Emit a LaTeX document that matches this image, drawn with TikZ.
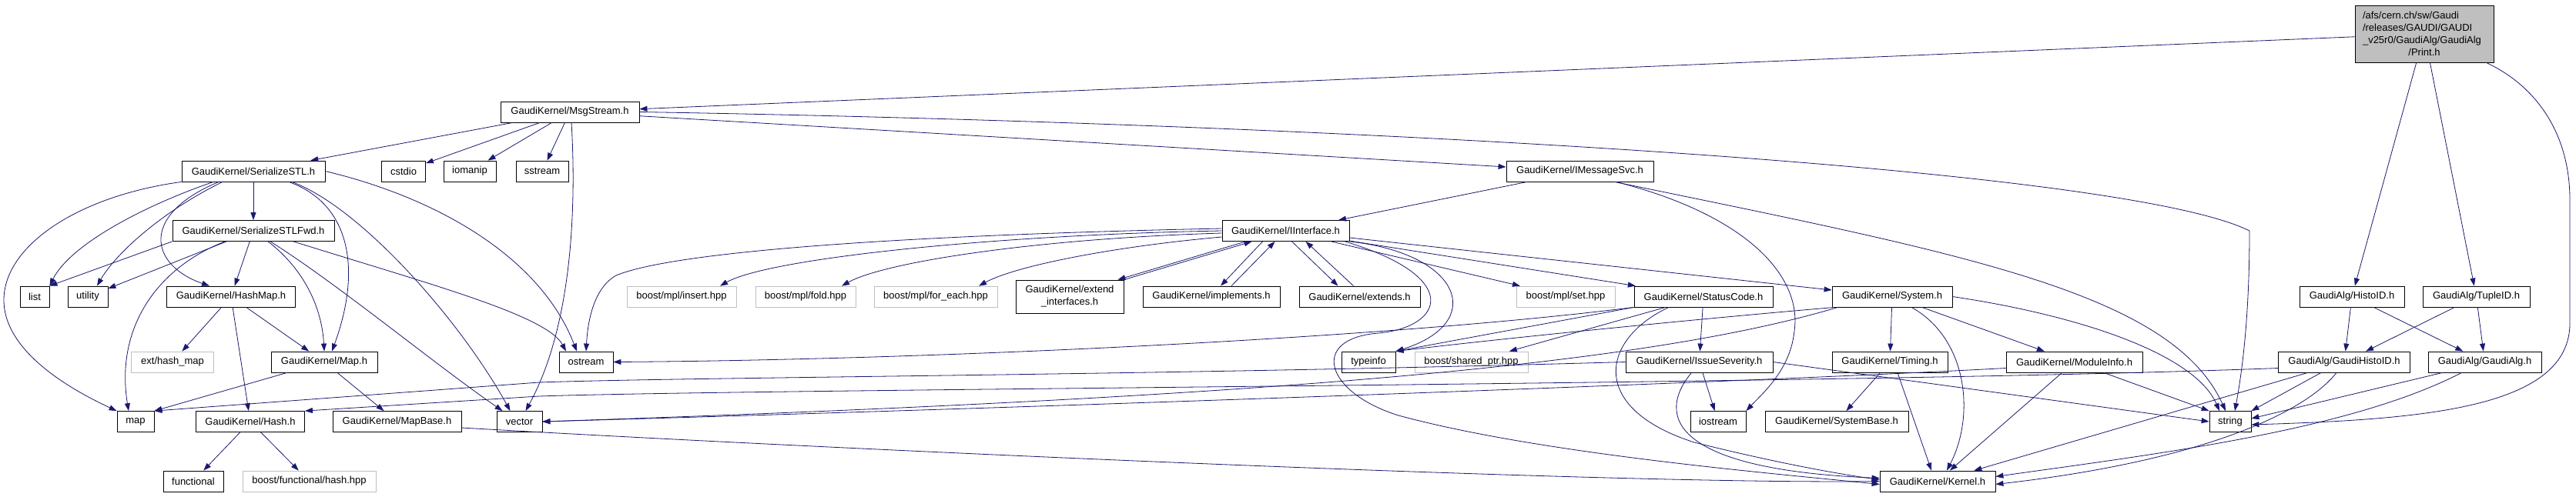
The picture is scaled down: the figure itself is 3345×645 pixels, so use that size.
\documentclass[tikz,border=0pt]{standalone}
\usepackage{fontspec}
\setmainfont{Liberation Sans}
\usetikzlibrary{arrows.meta}
\definecolor{edgeblue}{HTML}{191970}
\definecolor{lightgrey}{HTML}{BFBFBF}
\begin{document}
\begin{tikzpicture}[x=1pt, y=-1pt, >={Stealth[length=10pt, width=7pt, inset=0pt]},
    box/.style={draw, line width=0.8pt, inner sep=0pt, minimum height=27, font=\fontsize{13}{16}\selectfont},
    sysbox/.style={box, draw=lightgrey},
    dep/.style={->, edgeblue, line width=0.8pt}]
    \useasboundingbox (0,0) rectangle (3345,645);

    \node[box, fill=lightgrey, minimum width=180, minimum height=74, align=center] (print) at (3148,44)
        {\makebox[160pt][l]{/afs/cern.ch/sw/Gaudi}\\ \makebox[160pt][l]{/releases/GAUDI/GAUDI}\\
         \makebox[160pt][l]{\_v25r0/GaudiAlg/GaudiAlg}\\ /Print.h};
    \node[box, minimum width=180] (msg) at (740,145.5) {GaudiKernel/MsgStream.h};

    \node[box, minimum width=186] (stl) at (329,222.5) {GaudiKernel/SerializeSTL.h};
    \node[box, minimum width=57] (cstdio) at (524,222.5) {cstdio};
    \node[box, minimum width=68] (iomanip) at (610,222.5) {iomanip};
    \node[box, minimum width=68] (sstream) at (704,222.5) {sstream};
    \node[box, minimum width=191] (imsg) at (2051.5,222.5) {GaudiKernel/IMessageSvc.h};

    \node[box, minimum width=210] (stlfwd) at (329,300) {GaudiKernel/SerializeSTLFwd.h};
    \node[box, minimum width=165] (iif) at (1669.5,300) {GaudiKernel/IInterface.h};

    \node[box, minimum width=38] (list) at (45,385.5) {list};
    \node[box, minimum width=52] (utility) at (114,385.5) {utility};
    \node[box, minimum width=167] (hashmap) at (300,385.5) {GaudiKernel/HashMap.h};
    \node[sysbox, minimum width=142] (insert) at (885,385.5) {boost/mpl/insert.hpp};
    \node[sysbox, minimum width=130] (fold) at (1046,385.5) {boost/mpl/fold.hpp};
    \node[sysbox, minimum width=160] (foreach) at (1215,385.5) {boost/mpl/for\_each.hpp};
    \node[box, minimum width=140, minimum height=43, align=center] (extif) at (1389,385.5) {GaudiKernel/extend\\\_interfaces.h};
    \node[box, minimum width=178] (impl) at (1573,385.5) {GaudiKernel/implements.h};
    \node[box, minimum width=157] (ext) at (1765.5,385.5) {GaudiKernel/extends.h};
    \node[sysbox, minimum width=128] (mplset) at (2033,385.5) {boost/mpl/set.hpp};
    \node[box, minimum width=180] (status) at (2212,385.5) {GaudiKernel/StatusCode.h};
    \node[box, minimum width=156] (system) at (2457,385.5) {GaudiKernel/System.h};
    \node[box, minimum width=136] (histoid) at (3054,385.5) {GaudiAlg/HistoID.h};
    \node[box, minimum width=139] (tupleid) at (3215.5,385.5) {GaudiAlg/TupleID.h};

    \node[sysbox, minimum width=107] (hashext) at (224,470.5) {ext/hash\_map};
    \node[box, minimum width=138] (mapH) at (421,470.5) {GaudiKernel/Map.h};
    \node[box, minimum width=70] (ostream) at (761,470.5) {ostream};
    \node[box, minimum width=70] (typeinfo) at (1777,470.5) {typeinfo};
    \node[sysbox, minimum width=147] (sharedptr) at (1910.5,470.5) {boost/shared\_ptr.hpp};
    \node[box, minimum width=191] (issue) at (2206.5,470.5) {GaudiKernel/IssueSeverity.h};
    \node[box, minimum width=150] (timing) at (2454,470.5) {GaudiKernel/Timing.h};
    \node[box, minimum width=177] (modinfo) at (2693.5,470.5) {GaudiKernel/ModuleInfo.h};
    \node[box, minimum width=171] (ghisto) at (3044,470.5) {GaudiAlg/GaudiHistoID.h};
    \node[box, minimum width=147] (galg) at (3226.5,470.5) {GaudiAlg/GaudiAlg.h};

    \node[box, minimum width=48] (map) at (176,548) {map};
    \node[box, minimum width=141] (hash) at (325,548) {GaudiKernel/Hash.h};
    \node[box, minimum width=167] (mapbase) at (515.5,548) {GaudiKernel/MapBase.h};
    \node[box, minimum width=59] (vector) at (674.5,548) {vector};
    \node[box, minimum width=72] (iostream) at (2231,548) {iostream};
    \node[box, minimum width=186] (sysbase) at (2385,548) {GaudiKernel/SystemBase.h};
    \node[box, minimum width=54] (string) at (2896,548) {string};

    \node[box, minimum width=78] (functional) at (251,625.5) {functional};
    \node[sysbox, minimum width=173] (boosthash) at (401.5,625.5) {boost/functional/hash.hpp};
    \node[box, minimum width=150] (kernel) at (2516,625.5) {GaudiKernel/Kernel.h};

    \foreach \a/\b in {print/msg, print/histoid, print/tupleid, msg/stl, msg/cstdio, msg/iomanip,
        msg/sstream, msg/imsg, stl/stlfwd, stlfwd/utility, stlfwd/hashmap, hashmap/hashext,
        hashmap/mapH, hashmap/hash, mapH/mapbase, hash/functional, hash/boosthash, imsg/iif,
        iif/mplset, iif/status, iif/system, status/sharedptr, status/issue, issue/iostream,
        system/timing, system/modinfo, timing/sysbase, modinfo/kernel, histoid/ghisto,
        histoid/galg, tupleid/ghisto, tupleid/galg, ghisto/kernel} {
        \draw[dep] (\a) -- (\b);
    };
    \draw[dep] (stlfwd.south west) -- (list.north east);
    \draw[dep] (mapH) -- (map.north east);
    \draw[dep] (status.south west) -- (typeinfo.north east);
    \draw[dep] (issue.east) -- (string.west);
    \draw[dep] (modinfo) -- (string.north west);
    \draw[dep] ([xshift=10]timing.south) -- ([xshift=-8]kernel.north);
    \draw[dep] ([xshift=-30]ghisto.south) -- (string.north east);
    \draw[dep] ([xshift=-55]galg.south) -- ([yshift=4]string.east);

    \draw[dep] ([xshift=-10]print.south east) .. controls (3290,110) and (3337,170) .. (3337,260)
        -- (3337,420) .. controls (3337,530) and (3150,545) .. ([yshift=-4]string.east);
    \draw[dep] ([xshift=2]msg.south) .. controls (748,260) and (745,420) .. ([xshift=8]vector.north);
    \draw[dep] (msg.east) .. controls (1700,160) and (2750,215) .. (2921,300)
        .. controls (2921,420) and (2910,490) .. ([xshift=6]string.north);

    \draw[dep] (stl.south west) .. controls (100,255) and (5,320) .. (5,390)
        .. controls (5,460) and (100,510) .. (map.north west);
    \draw[dep] ([xshift=-52]stl.south) .. controls (180,270) and (90,320) .. (list.north east);
    \draw[dep] ([xshift=-40]stl.south) .. controls (210,275) and (150,330) .. ([xshift=12]utility.north);
    \draw[dep] ([xshift=-45]stl.south) .. controls (180,280) and (195,345) .. ([xshift=-28]hashmap.north);
    \draw[dep] ([xshift=46]stl.south) .. controls (455,265) and (470,350) .. ([xshift=10]mapH.north);
    \draw[dep] ([xshift=50]stl.south) .. controls (470,270) and (600,420) .. ([xshift=-12]vector.north);
    \draw[dep] (stl.east) .. controls (560,255) and (700,330) .. ([xshift=-12]ostream.north);

    \draw[dep] ([xshift=-37]stlfwd.south) .. controls (200,350) and (150,430) .. ([xshift=-9]map.north);
    \draw[dep] ([xshift=19]stlfwd.south) .. controls (395,350) and (418,400) .. (mapH.north);
    \draw[dep] ([xshift=22]stlfwd.south) .. controls (440,370) and (560,470) .. ([xshift=-22]vector.north);
    \draw[dep] ([xshift=52]stlfwd.south) .. controls (560,370) and (710,410) .. ([xshift=-26]ostream.north);

    \draw[dep] ([yshift=-8]mapbase.east) .. controls (1100,585) and (2100,630) .. (kernel.west);

    \draw[dep] ([xshift=45]imsg.south) .. controls (2550,330) and (2820,380) .. ([xshift=-6]string.north);
    \draw[dep] ([xshift=47]imsg.south) .. controls (2270,280) and (2340,360) .. (2330,430)
        .. controls (2325,480) and (2290,510) .. (iostream.north east);

    \draw[dep] (iif.west) .. controls (1300,305) and (1000,335) .. ([xshift=50]insert.north);
    \draw[dep] ([yshift=-3]iif.west) .. controls (1350,310) and (1150,340) .. ([xshift=47]fold.north);
    \draw[dep] ([yshift=-8]iif.west) .. controls (1450,320) and (1320,345) .. ([xshift=56]foreach.north);
    \draw[dep] ([yshift=3]iif.west) .. controls (1200,305) and (880,325) .. (800,358)
        .. controls (770,375) and (763,420) .. (ostream.north);
    \draw[dep] ([xshift=-52]iif.south) -- ([xshift=-8]extif.north east);
    \draw[dep] (extif.north east) -- ([xshift=-44]iif.south);
    \draw[dep] ([xshift=-30]iif.south) -- ([xshift=12]impl.north);
    \draw[dep] ([xshift=26]impl.north) -- ([xshift=-14]iif.south);
    \draw[dep] ([xshift=8]iif.south) -- ([xshift=-28]ext.north);
    \draw[dep] ([xshift=-8]ext.north) -- ([xshift=26]iif.south);
    \draw[dep] (iif.south east) .. controls (1900,330) and (1930,420) .. (typeinfo.north east);
    \draw[dep] ([xshift=-6]iif.south east) .. controls (1900,360) and (1875,425) .. (1790,433)
        .. controls (1700,440) and (1720,510) .. (1816,540) .. controls (2000,590) and (2300,615) .. ([yshift=-4]kernel.west);

    \draw[dep] (status.south west) .. controls (1800,440) and (1200,468) .. (ostream.east);
    \draw[dep] ([xshift=-45]status.south) .. controls (2080,440) and (2060,530) .. (2200,575)
        .. controls (2300,600) and (2380,615) .. ([yshift=2]kernel.west);

    \draw[dep] ([xshift=-10]issue.south) .. controls (2150,540) and (2170,610) .. ([yshift=4]kernel.west);
    \draw[dep] (issue.west) .. controls (1500,488) and (900,490) .. (700,497) -- (map.north east);

    \draw[dep] ([xshift=4]system.south west) .. controls (2200,415) and (1950,440) .. (typeinfo.north east);
    \draw[dep] ([xshift=8]system.south west) .. controls (2150,470) and (1700,515) .. (vector.east);
    \draw[dep] (system.east) .. controls (2700,410) and (2850,460) .. ([xshift=-14]string.north);
    \draw[dep] ([xshift=25]system.south) .. controls (2555,440) and (2565,540) .. ([xshift=12]kernel.north);

    \draw[dep] ([yshift=-8]modinfo.west) .. controls (2300,495) and (1500,525) .. (vector.east);
    \draw[dep] ([yshift=-8]ghisto.west) .. controls (2400,500) and (1000,505) .. (700,515) -- (hash.north east);
    \draw[dep] ([xshift=-10]ghisto.south) .. controls (2990,540) and (2850,600) .. ([yshift=-4]kernel.east);
    \draw[dep] ([xshift=-30]galg.south) .. controls (3050,560) and (2800,590) .. ([yshift=6]kernel.east);
\end{tikzpicture}
\end{document}
